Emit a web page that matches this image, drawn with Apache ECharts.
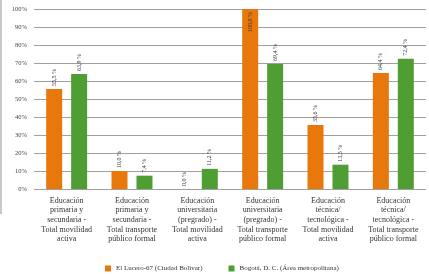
<!DOCTYPE html>
<html>
<head>
<meta charset="utf-8">
<script src="https://cdn.jsdelivr.net/npm/echarts@6/dist/echarts.min.js"></script>
<style>
  html, body { margin: 0; padding: 0; background: #fff; }
  #wrap { position: relative; width: 429px; height: 274px; }
  #chart { width: 429px; height: 274px; }
  #edge { position: absolute; left: 0; top: 0; width: 2px; height: 214px; background: #c8c8c8; }
</style>
</head>
<body>
<div id="wrap">
  <div id="chart"></div>
  <div id="edge"></div>
</div>
<script>
var categories = [
    'Educación\nprimaria y\nsecundaria -\nTotal movilidad\nactiva',
    'Educación\nprimaria y\nsecundaria -\nTotal transporte\npúblico formal',
    'Educación\nuniversitaria\n(pregrado) -\nTotal movilidad\nactiva',
    'Educación\nuniversitaria\n(pregrado) -\nTotal transporte\npúblico formal',
    'Educación\ntécnica/\ntecnológica -\nTotal movilidad\nactiva',
    'Educación\ntécnica/\ntecnológica -\nTotal transporte\npúblico formal'
];
var luceroValues = [55.5, 10.0, 0.0, 100.0, 35.6, 64.4];
var bogotaValues = [63.9, 7.4, 11.2, 69.4, 13.5, 72.4];
var seriesNames = ['El Lucero-67 (Ciudad Bolívar)', 'Bogotá, D. C. (Área metropolitana)'];

var serif = '"Liberation Serif", "DejaVu Serif", serif';

function fmt(v) {
    return v.toFixed(1).replace('.', ',') + ' %';
}

function barLabel(params) {
    return fmt(params.value);
}

var chart = echarts.init(document.getElementById('chart'));

function buildData(values) {
    // label goes inside the bar when it hits the top
    return values.map(function (v) {
        if (v >= 100) {
            return {
                value: v,
                label: { position: 'insideTop', align: 'right', distance: 3 }
            };
        }
        return v;
    });
}

function labelStyle() {
    return {
        show: true,
        position: 'top',
        rotate: 90,
        align: 'left',
        verticalAlign: 'middle',
        distance: 3,
        formatter: barLabel,
        fontFamily: serif,
        fontSize: 6,
        color: '#333'
    };
}

var option = {
    animation: false,
    color: ['#e8780c', '#4e9e33'],
    legend: {
        data: seriesNames,
        top: 260,
        left: 100,
        itemWidth: 6,
        itemHeight: 6,
        itemGap: 26,
        icon: 'rect',
        textStyle: { fontFamily: serif, fontSize: 7, color: '#333' }
    },
    grid: {
        left: 34,
        right: 3,
        top: 9,
        bottom: 85
    },
    xAxis: {
        type: 'category',
        data: categories,
        axisLine: { show: false },
        axisTick: { show: false },
        axisLabel: {
            interval: 0,
            margin: 7,
            fontFamily: serif,
            fontSize: 8,
            lineHeight: 9.6,
            color: '#333'
        }
    },
    yAxis: {
        type: 'value',
        min: 0,
        max: 100,
        interval: 10,
        axisLine: { show: false },
        axisTick: { show: false },
        axisLabel: {
            formatter: '{value}%',
            margin: 7,
            fontFamily: serif,
            fontSize: 6.5,
            color: '#444'
        },
        splitLine: { lineStyle: { color: '#a0a0a0', width: 1 } }
    },
    series: [{
        name: seriesNames[0],
        type: 'bar',
        barWidth: 16,
        barGap: '56%',
        data: buildData(luceroValues),
        label: labelStyle()
    }, {
        name: seriesNames[1],
        type: 'bar',
        barWidth: 16,
        barGap: '56%',
        data: buildData(bogotaValues),
        label: labelStyle()
    }]
};

chart.setOption(option);
</script>
</body>
</html>
